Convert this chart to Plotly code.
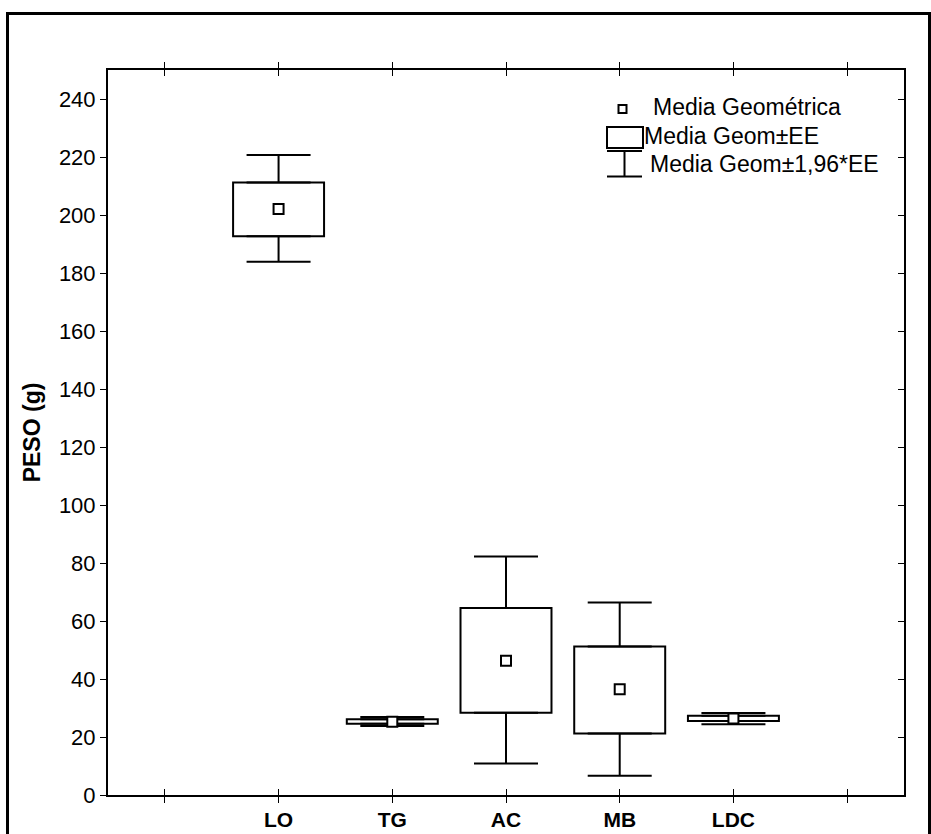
import plotly.graph_objects as go

# ---- data ----
categories = ["LO", "TG", "AC", "MB", "LDC"]
geo_mean = [202.1, 25.3, 46.3, 36.5, 26.4]
se_low = [192.7, 24.6, 28.4, 21.2, 25.5]
se_high = [211.2, 26.1, 64.5, 51.2, 27.3]
ci_low = [183.9, 23.8, 10.9, 6.6, 24.4]
ci_high = [220.7, 26.9, 82.2, 66.4, 28.3]
y_ticks = [0, 20, 40, 60, 80, 100, 120, 140, 160, 180, 200, 220, 240]
legend_labels = ["Media Geométrica", "Media Geom±EE", "Media Geom±1,96*EE"]

# categories sit in slots 1..5 of a 7-slot axis (slots 0 and 6 empty)
xpos = list(range(1, len(categories) + 1))
x_tickvals = list(range(0, len(categories) + 2))
x_ticktext = [""] + categories + [""]

W, H = 931, 834
ML, MR, MT, MB = 108, 27, 70, 39
PW, PH = W - ML - MR, H - MT - MB


def px(x):
    return (x - ML) / PW


def py(y):
    return (H - MB - y) / PH


FONT = "Liberation Sans, Arial, sans-serif"

fig = go.Figure()

# upper whiskers (from the top of the box to +1.96*SE)
fig.add_trace(go.Scatter(
    x=xpos, y=se_high, mode="markers", marker=dict(size=1, opacity=0),
    error_y=dict(type="data", symmetric=False,
                 array=[h - s for h, s in zip(ci_high, se_high)],
                 arrayminus=[0] * len(xpos),
                 width=32, thickness=2, color="black"),
    showlegend=False, hoverinfo="skip",
))
# lower whiskers
fig.add_trace(go.Scatter(
    x=xpos, y=se_low, mode="markers", marker=dict(size=1, opacity=0),
    error_y=dict(type="data", symmetric=False,
                 array=[0] * len(xpos),
                 arrayminus=[s - l for s, l in zip(se_low, ci_low)],
                 width=32, thickness=2, color="black"),
    showlegend=False, hoverinfo="skip",
))

# boxes (mean ± SE)
fig.add_trace(go.Bar(
    x=xpos, base=se_low, y=[h - l for h, l in zip(se_high, se_low)],
    width=0.8, marker=dict(color="white", line=dict(color="black", width=2)),
    showlegend=False, hoverinfo="skip",
))

# geometric means
fig.add_trace(go.Scatter(
    x=xpos, y=geo_mean, mode="markers",
    marker=dict(symbol="square", size=10, color="white",
                line=dict(color="black", width=2)),
    showlegend=False, hoverinfo="skip",
))

# invisible companion trace so the right-hand (mirror) axis is drawn
fig.add_trace(go.Scatter(
    x=xpos, y=geo_mean, yaxis="y2", mode="markers",
    marker=dict(opacity=0), showlegend=False, hoverinfo="skip",
))

axis_common = dict(showgrid=False, zeroline=False, linecolor="black",
                   tickcolor="black", ticklen=6, tickwidth=1, automargin=False)

fig.update_layout(
    width=W, height=H,
    margin=dict(l=ML, r=MR, t=MT, b=MB, pad=0, autoexpand=False),
    paper_bgcolor="white", plot_bgcolor="white",
    font=dict(family=FONT, color="black"),
    barmode="overlay",
    xaxis=dict(
        range=[-0.5, len(categories) + 1.5],
        tickmode="array", tickvals=x_tickvals, ticktext=x_ticktext,
        ticks="inside", mirror="allticks", showline=True, linewidth=2,
        tickfont=dict(family=FONT, size=21, color="black", weight="bold"),
        ticklabelstandoff=5,
        **axis_common,
    ),
    yaxis=dict(
        range=[0, 250], tickmode="array", tickvals=y_ticks,
        ticks="outside", mirror=True, showline=True, linewidth=2,
        tickfont=dict(family=FONT, size=22, color="black"),
        title=dict(text="PESO (g)", standoff=12,
                   font=dict(family=FONT, size=23, color="black", weight="bold")),
        **axis_common,
    ),
    yaxis2=dict(
        range=[0, 250], tickmode="array", tickvals=y_ticks,
        overlaying="y", side="right", ticks="inside",
        showticklabels=False, showline=False,
        **axis_common,
    ),
)

# outer frame of the figure
fig.add_shape(type="rect", xref="paper", yref="paper",
              x0=px(7.5), x1=px(929.5), y0=py(850), y1=py(13.5),
              line=dict(color="black", width=3), fillcolor="rgba(0,0,0,0)",
              layer="above")

# ---- hand-drawn legend (top right, inside the plot) ----
lg = dict(xref="paper", yref="paper", line=dict(color="black", width=2))
fig.add_shape(type="rect", x0=px(618.5), x1=px(626.5), y0=py(113), y1=py(105),
              fillcolor="white", **lg)
fig.add_shape(type="rect", x0=px(607), x1=px(643), y0=py(148), y1=py(127),
              fillcolor="white", **lg)
fig.add_shape(type="line", x0=px(607), x1=px(642), y0=py(151), y1=py(151), **lg)
fig.add_shape(type="line", x0=px(624.5), x1=px(624.5), y0=py(151), y1=py(176.5), **lg)
fig.add_shape(type="line", x0=px(607), x1=px(642), y0=py(176.5), y1=py(176.5), **lg)

for label, (tx, ty) in zip(legend_labels, [(651, 107), (642, 136), (648, 164)]):
    fig.add_annotation(xref="paper", yref="paper", x=px(tx), y=py(ty),
                       text=label, showarrow=False, xanchor="left", yanchor="middle",
                       font=dict(family=FONT, size=23, color="black"))

fig.write_html("out.html")
